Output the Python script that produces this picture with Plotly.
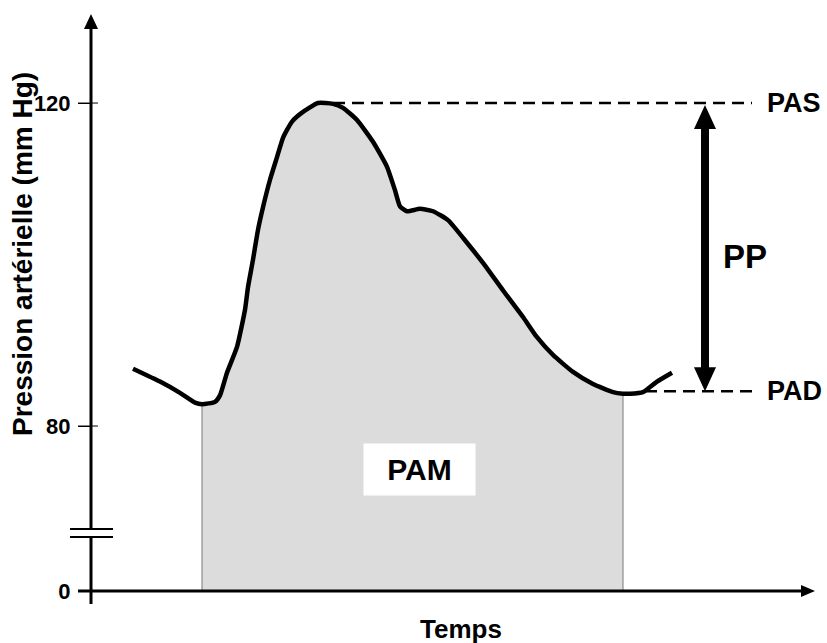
import plotly.graph_objects as go

# ---------------- data (time in ms, pressure in mmHg) ----------------
time_ms = [84, 138, 178, 208, 222, 248, 258, 272, 292, 308, 314, 324, 334, 344,
           358, 372, 384, 402, 424, 454, 484, 504, 532, 564, 592, 608, 618, 632,
           658, 684, 714, 752, 784, 824, 864, 892, 924, 964, 1004, 1044, 1064,
           1078, 1104, 1132, 1162]
pressure = [87.1, 85.5, 84.1, 82.9, 82.7, 83.0, 83.8, 86.6, 89.8, 94.4, 97.2,
            100.6, 104.3, 107.1, 110.5, 113.3, 115.7, 117.7, 118.9, 120.0, 119.9,
            119.4, 117.9, 115.2, 112.1, 109.2, 107.2, 106.6, 106.9, 106.6, 105.5,
            102.7, 100.2, 96.8, 93.5, 91.0, 88.8, 86.7, 85.2, 84.2, 84.0, 84.0,
            84.2, 85.5, 86.6]
cycle_start_ms = 222
cycle_end_ms = 1064
PAS = 120
PAD = 84.3
peak_ms = 484
PP_ms = 1228

tick_labels = ["0", "80", "120"]
tick_values = [0, 80, 120]
ZERO_DISPLAY = 59.57   # position where "0" is shown below the axis break

# ---------------- layout constants ----------------
W, H = 827, 643
X_RANGE = [-182, 1472]
Y_RANGE = [53.13, 132.76]
PX_PER_MMHG = H / (Y_RANGE[1] - Y_RANGE[0])
FONT = "Arial, Liberation Sans, sans-serif"


def fx(px):
    return px / W


def fy(py):
    return 1 - py / H


def disp(v):
    return ZERO_DISPLAY if v == 0 else v


# fill polygon (one cardiac cycle down to the baseline)
cyc = [(t, p) for t, p in zip(time_ms, pressure) if cycle_start_ms <= t <= cycle_end_ms]
fill_x = [c[0] for c in cyc] + [cycle_end_ms, cycle_start_ms, cycle_start_ms]
fill_y = [c[1] for c in cyc] + [ZERO_DISPLAY, ZERO_DISPLAY, cyc[0][1]]

fig = go.Figure()
fig.add_trace(go.Scatter(x=fill_x, y=fill_y, mode="lines", fill="toself",
                         fillcolor="#dcdcdc", line=dict(color="#7a7a7a", width=1),
                         hoverinfo="skip"))
fig.add_trace(go.Scatter(x=time_ms, y=pressure, mode="lines",
                         line=dict(color="black", width=4.5, shape="spline", smoothing=0.5),
                         hoverinfo="skip"))

shapes = []
# y axis
shapes.append(dict(type="line", xref="paper", yref="paper", x0=fx(91), x1=fx(91),
                   y0=fy(604), y1=fy(26), line=dict(color="black", width=3)))
shapes.append(dict(type="path", xref="paper", yref="paper",
                   path=f"M{fx(91)},{fy(14)} L{fx(84)},{fy(29)} L{fx(98)},{fy(29)} Z",
                   fillcolor="black", line=dict(width=0)))
# x axis
shapes.append(dict(type="line", xref="paper", yref="paper", x0=fx(78), x1=fx(803),
                   y0=fy(591), y1=fy(591), line=dict(color="black", width=3)))
shapes.append(dict(type="path", xref="paper", yref="paper",
                   path=f"M{fx(815)},{fy(591)} L{fx(801)},{fy(585)} L{fx(801)},{fy(597)} Z",
                   fillcolor="black", line=dict(width=0)))
# axis break
shapes.append(dict(type="rect", xref="paper", yref="paper", x0=fx(86), x1=fx(96),
                   y0=fy(536), y1=fy(530), fillcolor="white", line=dict(width=0)))
for yb in (529, 537):
    shapes.append(dict(type="line", xref="paper", yref="paper", x0=fx(70), x1=fx(113),
                       y0=fy(yb), y1=fy(yb), line=dict(color="black", width=2)))
# ticks crossing the axis
for v in tick_values[1:]:
    shapes.append(dict(type="line", xref="x", yref="y", xsizemode="pixel", xanchor=0,
                       x0=-13, x1=7, y0=v, y1=v, line=dict(color="black", width=1)))
# dashed PAS / PAD
shapes.append(dict(type="line", xref="x", yref="y", x0=peak_ms, x1=1322, y0=PAS, y1=PAS,
                   line=dict(color="black", width=2.5, dash="12px,7px")))
shapes.append(dict(type="line", xref="x", yref="y", x0=1108, x1=1322, y0=PAD, y1=PAD,
                   line=dict(color="black", width=2.5, dash="12px,7px")))
# PP double arrow
shapes.append(dict(type="line", xref="x", yref="y", x0=PP_ms, x1=PP_ms,
                   y0=PAD + 20 / PX_PER_MMHG, y1=PAS - 22 / PX_PER_MMHG,
                   line=dict(color="black", width=8)))
shapes.append(dict(type="path", xref="x", yref="y", xsizemode="pixel", ysizemode="pixel",
                   xanchor=PP_ms, yanchor=PAS, path="M0,-2 L-11,-26 L11,-26 Z",
                   fillcolor="black", line=dict(width=0)))
shapes.append(dict(type="path", xref="x", yref="y", xsizemode="pixel", ysizemode="pixel",
                   xanchor=PP_ms, yanchor=PAD, path="M0,0 L-11,24 L11,24 Z",
                   fillcolor="black", line=dict(width=0)))

bold = dict(family=FONT, color="black", weight="bold")
annotations = [
    dict(text="Pression artérielle (mm Hg)", textangle=-90, xref="paper", yref="paper",
         x=fx(23), y=fy(254), showarrow=False, xanchor="center", yanchor="middle",
         font=dict(size=28, **bold)),
    dict(text="Temps", xref="paper", yref="paper", x=fx(461), y=fy(629), showarrow=False,
         xanchor="center", yanchor="middle", font=dict(size=26, **bold)),
    dict(text="PAS", xref="x", yref="y", x=1348, y=PAS, showarrow=False,
         xanchor="left", yanchor="middle", font=dict(size=27, **bold)),
    dict(text="PAD", xref="x", yref="y", x=1348, y=PAD, showarrow=False,
         xanchor="left", yanchor="middle", font=dict(size=27, **bold)),
    dict(text="PP", xref="x", yref="y", x=1260, y=101, showarrow=False,
         xanchor="left", yanchor="middle", font=dict(size=33, **bold)),
    dict(text="PAM", xref="x", yref="y", x=656, y=74.6, showarrow=False,
         xanchor="center", yanchor="middle", width=109, height=49, bgcolor="white",
         font=dict(size=30, **bold)),
]

fig.update_layout(
    width=W, height=H, autosize=False,
    margin=dict(l=0, r=0, t=0, b=0),
    paper_bgcolor="white", plot_bgcolor="white",
    showlegend=False,
    shapes=shapes, annotations=annotations,
    xaxis=dict(range=X_RANGE, showgrid=False, zeroline=False, showticklabels=False,
               showline=False, fixedrange=True),
    yaxis=dict(range=Y_RANGE, showgrid=False, zeroline=False, showline=False,
               anchor="free", position=fx(91),
               tickvals=[disp(v) for v in tick_values], ticktext=tick_labels,
               ticks="outside", ticklen=13, tickwidth=1, tickcolor="black",
               ticklabelstandoff=3,
               tickfont=dict(size=22, **bold), fixedrange=True),
)

fig.write_html("out.html", config={"displayModeBar": False},
               post_script="document.body.style.margin='0';document.body.style.overflow='hidden';")
